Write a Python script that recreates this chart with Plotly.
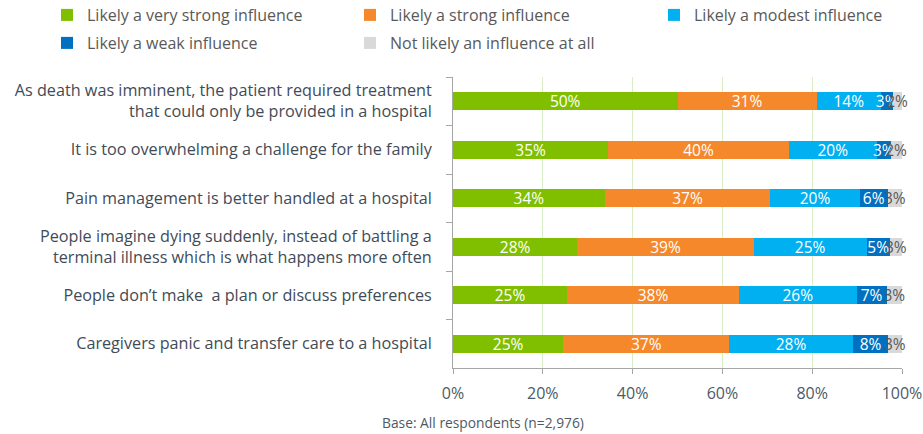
import plotly.graph_objects as go

categories = [
    "As death was imminent, the patient required treatment<br>that could only be provided in a hospital",
    "It is too overwhelming a challenge for the family",
    "Pain management is better handled at a hospital",
    "People imagine dying suddenly, instead of battling a<br>terminal illness which is what happens more often",
    "People don’t make  a plan or discuss preferences",
    "Caregivers panic and transfer care to a hospital",
]
series_names = [
    "Likely a very strong influence",
    "Likely a strong influence",
    "Likely a modest influence",
    "Likely a weak influence",
    "Not likely an influence at all",
]
very_strong = [50.0, 34.6, 33.8, 27.7, 25.4, 24.6]
strong = [31.0, 40.2, 36.9, 39.3, 38.3, 36.9]
modest = [14.3, 19.6, 19.9, 25.1, 26.2, 27.6]
weak = [2.6, 3.1, 6.2, 5.2, 6.7, 7.8]
not_at_all = [2.0, 2.4, 3.2, 2.7, 3.4, 3.0]
x_ticks = [0, 20, 40, 60, 80, 100]

series_values = [very_strong, strong, modest, weak, not_at_all]
colors = ["#7fbf00", "#f5882a", "#00b0f0", "#0070c0", "#d9d9d9"]
text_colors = ["white", "white", "white", "white", "#595959"]
legend_ids = ["legend", "legend2", "legend3", "legend4", "legend5"]
legend_pos = [(47, 15), (350, 15), (654, 15), (47, 43), (350, 43)]

W, H = 923, 434
PW, PH, L, T = 449, 291, 453, 77
def px_x(p):
    return (p - L) / PW
def px_y(p):
    return (T + PH - p) / PH

FONT = "Open Sans"
fig = go.Figure()
for name, vals, col, tc, lg in zip(series_names, series_values, colors, text_colors, legend_ids):
    fig.add_trace(go.Bar(
        y=categories, x=vals, name=name, orientation="h", legend=lg,
        showlegend=True,
        marker=dict(color=col, line=dict(width=0)),
        texttemplate="%{x:.0f}%", textposition="inside", textangle=0,
        insidetextanchor="middle", constraintext="none",
        textfont=dict(color=tc, size=15.5, family=FONT),
        cliponaxis=False, width=0.38,
    ))

legends = {}
for lg, (lx, ly) in zip(legend_ids, legend_pos):
    legends[lg] = dict(orientation="v", xanchor="left", yanchor="middle",
                       x=px_x(lx), y=px_y(ly), visible=True,
                       font=dict(size=16, color="#595959", family=FONT),
                       bgcolor="rgba(0,0,0,0)")

fig.update_layout(
    barmode="stack",
    showlegend=True,
    width=W, height=H,
    margin=dict(l=L, r=W - L - PW, t=T, b=H - T - PH, autoexpand=False),
    plot_bgcolor="white", paper_bgcolor="white",
    font=dict(family=FONT, color="#4d5a66", size=14),
    xaxis=dict(range=[0, 100], tickvals=x_ticks, ticktext=[f"{t}%" for t in x_ticks],
               showgrid=True, gridcolor="#d8eec4", gridwidth=1,
               showline=True, linecolor="#a6a6a6", ticks="outside", ticklen=5,
               tickcolor="#a6a6a6", zeroline=False, automargin=False,
               ticklabelstandoff=6,
               tickfont=dict(size=16, color="#4d5a66", family=FONT)),
    yaxis=dict(autorange="reversed", showline=True, linecolor="#a6a6a6",
               ticks="outside", tickson="boundaries", ticklen=6, tickcolor="#a6a6a6",
               showgrid=False, automargin=False, ticklabelstandoff=17,
               tickfont=dict(size=16.2, color="#3f4b57", family=FONT)),
    annotations=[dict(text="Base: All respondents (n=2,976)",
                      x=px_x(483), y=px_y(422), xref="paper", yref="paper",
                      xanchor="center", yanchor="middle", showarrow=False,
                      font=dict(size=13.8, color="#4d5a66", family=FONT))],
    **legends,
)
fig.write_html("out.html", config={"displayModeBar": False},
               post_script="document.body.style.margin='0';document.body.style.padding='0';")
